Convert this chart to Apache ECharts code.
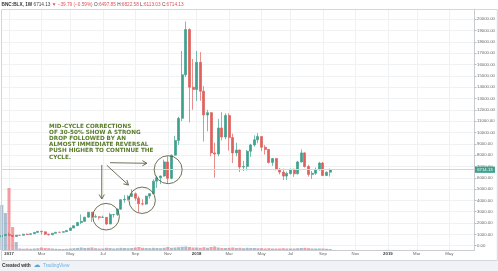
<!DOCTYPE html>
<html><head><meta charset="utf-8">
<script src="https://cdn.jsdelivr.net/npm/echarts@6/dist/echarts.min.js"></script>
<style>html,body{margin:0;padding:0;background:#fff;}#c{width:498px;height:271px;}</style>
</head><body><div id="c"></div>
<script>
// ---------- DATA ----------
const firstWeek = '2016-12-19';   // first weekly bar (Monday)
const weekCount = 132;            // weeks shown on the time axis (incl. empty future space)
// weekly candles: [open, close, low, high]
const ohlc = [
  [790,891,785,935],[891,998,880,1005],[998,908,850,1150],[908,818,750,915],[818,922,818,925],
  [922,921,886,925],[921,1021,915,1030],[1021,998,940,1070],[998,1055,975,1060],[1055,1175,1050,1200],
  [1175,1273,1170,1280],[1273,1225,980,1330],[1225,1019,940,1260],[1019,966,890,1060],[966,1098,935,1110],
  [1098,1190,1095,1210],[1190,1186,1150,1200],[1186,1240,1180,1260],[1240,1350,1235,1355],[1350,1560,1350,1610],
  [1560,1770,1550,1800],[1770,2050,1730,2100],[2050,2150,1900,2760],[2150,2520,2100,2550],[2520,2950,2500,2980],
  [2950,2530,2100,2990],[2530,2560,2500,2760],[2560,2500,2300,2590],[2500,2510,2450,2660],[2510,1915,1840,2530],
  [1915,2750,1905,2900],[2750,2760,2480,2800],[2760,3230,2620,3290],[3230,4060,3180,4100],[4060,4100,3800,4480],
  [4100,4350,3990,4460],[4350,4590,4320,4980],[4590,4200,3970,4700],[4200,3700,2970,4380],[3700,3680,3550,4100],
  [3680,4380,3610,4420],[4380,4600,4150,4620],[4600,5700,4560,5860],[5700,6000,5100,6200],[6000,6150,5440,6200],
  [6150,7400,6100,7600],[7400,5950,5500,7900],[5950,8000,5860,8050],[8000,9300,7950,9700],[9300,11250,8900,11400],
  [11250,15100,11000,17200],[15100,19100,14900,19800],[19100,14000,10900,19200],[14000,13800,12000,16500],[13800,16200,12800,17200],
  [16200,13650,12800,17100],[13650,11550,9200,14100],[11550,11750,10100,12000],[11750,8200,7900,11800],[8200,8100,6000,9100],
  [8100,10400,7900,11200],[10400,9600,9300,11800],[9600,11500,9400,11700],[11500,9550,8400,11700],[9550,8200,7300,9900],
  [8200,8450,7900,9100],[8450,6950,6500,8500],[6950,7000,6600,7500],[7000,8350,6650,8450],[8350,8900,7850,9000],
  [8900,9350,8750,9750],[9350,9650,9050,9950],[9650,8700,8350,9650],[8700,8500,8050,8900],[8500,7350,7250,8550],
  [7350,7700,7050,7750],[7700,6750,6650,7750],[6750,6500,6300,6850],[6500,6150,5800,6800],[6150,6380,5800,6530],
  [6380,6750,6280,6800],[6750,6350,6080,6800],[6350,7400,6300,7500],[7400,8200,7350,8500],[8200,7000,6900,8250],
  [7000,6300,6100,7150],[6300,6400,5900,6600],[6400,6700,6250,6900],[6700,7300,6650,7400],[7300,6200,6150,7400],
  [6200,6498,6150,6550],[6497.85,6714.13,6113.03,6822.58]
];
// relative weekly volume (arbitrary units)
const volume = [
  45,37,62,23,8,1.5,1.2,1.5,1.2,1.5,
  1.8,2.5,2,1.8,1.5,1.2,1,1,1.2,1.5,
  1.8,2,2.5,2,2.2,2.5,1.8,1.5,1.5,2.2,
  2,1.5,1.8,2.2,2,1.8,2,2.5,3,2.2,
  2,1.8,2.2,2,1.8,2.2,3,2.2,2.5,2.8,
  3.2,3.5,3,2.5,2.5,2.2,2.8,2.2,3,3.5,
  2.5,2,2,2.2,2.5,2,2.2,1.8,2.2,2,
  2,1.8,1.8,1.5,1.8,1.5,1.5,1.5,1.8,1.5,
  1.5,1.5,1.8,2,2.2,1.8,1.5,1.5,1.5,1.5,
  1.2,1
];
const lastPrice = 6714.13;
const yTickLabelsMax = 20000;
const timeTicks = [
  ['2017-01-02','2017'],['2017-03-06','Mar'],['2017-05-01','May'],['2017-07-03','Jul'],['2017-09-04','Sep'],
  ['2017-11-06','Nov'],['2018-01-01','2018'],['2018-03-05','Mar'],['2018-05-07','May'],['2018-07-02','Jul'],
  ['2018-09-03','Sep'],['2018-11-05','Nov'],['2019-01-07','2019'],['2019-03-04','Mar'],['2019-05-06','May']
];
const headerParts = [
  ['b','BNC:BLX, 1W '],['n','6714.13 '],['r','\u25BC \u221239.79 (\u22120.59%) '],
  ['n','O:'],['r','6497.85 '],['n','H:'],['r','6822.58 '],['n','L:'],['r','6113.03 '],['n','C:'],['r','6714.13']
];
const noteText = ['MID-CYCLE CORRECTIONS','OF 30-50% SHOW A STRONG','DROP FOLLOWED BY AN','ALMOST IMMEDIATE REVERSAL','PUSH HIGHER TO CONTINUE THE','CYCLE.'];
// annotation anchors in chart space: [week index, price]
const noteAnchor = [13.1, 10790];
const noteCircles = [[28.9, 2562, 13.3], [38.9, 4011, 13.2], [46.1, 6714, 14]];
const noteArrows = [
  [[27.7, 7129], [27.7, 4125]],
  [[29.1, 7102], [35.1, 5362]],
  [[30.0, 7332], [40.2, 7279]]
];

// ---------- BUILD ----------
const categories = [];
{
  const d0 = new Date(firstWeek + 'T00:00:00Z');
  for (let k = 0; k < weekCount; k++) {
    const d = new Date(d0.getTime() + k * 7 * 86400000);
    categories.push(d.toISOString().slice(0, 10));
  }
}
const tickMap = {};
timeTicks.forEach(t => tickMap[t[0]] = t[1]);
const showTick = (idx, val) => tickMap[val] !== undefined;

const UP = '#3fa08c', DOWN = '#e0605c';
const volData = volume.map((v, i) => ({
  value: v,
  itemStyle: { color: ohlc[i][1] >= ohlc[i][0] ? 'rgba(100,135,165,0.55)' : 'rgba(235,80,92,0.55)' }
}));

const FONT = 'Liberation Sans, Arial, sans-serif';
const HF = 4.7;
const richHeader = {
  b: { fontWeight: 'bold', fill: '#333', fontSize: HF, fontFamily: FONT },
  n: { fill: '#444', fontSize: HF, fontFamily: FONT },
  r: { fill: '#e0505a', fontSize: HF, fontFamily: FONT }
};

const option = {
  animation: false,
  backgroundColor: '#ffffff',
  grid: [
    { left: 1.8, right: 23.5, top: 9, height: 236.7 },
    { left: 1.8, right: 23.5, top: 9, bottom: 21 }
  ],
  xAxis: [
    { type: 'category', gridIndex: 0, data: categories, boundaryGap: false,
      axisLine: { show: false }, axisTick: { show: false }, axisLabel: { show: false }, splitLine: { show: false } },
    { type: 'category', gridIndex: 1, data: categories, boundaryGap: false,
      axisLine: { show: true, lineStyle: { color: '#c9ccd0', width: 1 } },
      axisTick: { show: false },
      axisLabel: { show: true, interval: showTick, fontSize: 4.3, color: '#666', margin: 2.2, fontFamily: FONT,
        formatter: v => { const t = tickMap[v]; if (!t) return ''; return /^\d{4}$/.test(t) ? '{y|' + t + '}' : t; },
        rich: { y: { fontSize: 4.3, fontWeight: 'bold', color: '#333', fontFamily: FONT } } },
      splitLine: { show: true, interval: showTick, lineStyle: { color: '#f0f1f3', width: 1 } } }
  ],
  yAxis: [
    { type: 'value', gridIndex: 0, position: 'right', min: 0, max: 20910, interval: 1000,
      axisLine: { show: false },
      axisTick: { show: true, length: 2, lineStyle: { color: '#b8bcc0' } },
      axisLabel: { show: true, fontSize: 4.3, color: '#666', margin: 2.5, fontFamily: FONT,
        formatter: v => (v % 1000 === 0 && v <= yTickLabelsMax) ? v.toFixed(2) : '' },
      splitLine: { show: true, lineStyle: { color: '#f0f1f3', width: 1 } } },
    { type: 'value', gridIndex: 1, position: 'right', min: 0, max: 241,
      axisLine: { show: true, lineStyle: { color: '#c9ccd0', width: 1 } },
      axisTick: { show: false }, axisLabel: { show: false }, splitLine: { show: false } }
  ],
  series: [
    { type: 'bar', name: 'Volume', xAxisIndex: 1, yAxisIndex: 1, data: volData, barWidth: '85%', silent: true },
    { type: 'candlestick', name: 'BNC:BLX', xAxisIndex: 0, yAxisIndex: 0, data: ohlc, clip: false,
      barWidth: 2.5,
      itemStyle: { color: UP, color0: DOWN, borderColor: UP, borderColor0: DOWN, borderWidth: 0.7 },
      markLine: {
        silent: true, symbol: ['none', 'none'], animation: false,
        lineStyle: { color: '#c6dcd8', width: 1, type: 'solid' },
        label: { show: true, position: 'end', distance: 0.5, formatter: lastPrice.toFixed(2),
          backgroundColor: UP, color: '#fff', fontSize: 4.3, padding: [1.3, 2.2, 1, 2.2], fontFamily: FONT },
        data: [{ yAxis: lastPrice }]
      } }
  ],
  graphic: [
    { id: 'frame', type: 'rect', z: 100, silent: true,
      shape: { x: 1.5, y: 9.5, width: 495.8, height: 251 },
      style: { fill: 'none', stroke: '#d3d6da', lineWidth: 1 } },
    { id: 'footerBg', type: 'rect', z: 99, silent: true,
      shape: { x: 0, y: 261, width: 498, height: 10 }, style: { fill: '#f0f2f5' } },
    { id: 'header', type: 'text', z: 100, x: 1.5, y: 4.5, silent: true,
      style: { text: headerParts.map(p => '{' + p[0] + '|' + p[1] + '}').join(''), rich: richHeader,
        verticalAlign: 'middle', fontSize: HF, fontFamily: FONT } },
    { id: 'created', type: 'text', z: 101, x: 2, y: 266, silent: true,
      style: { text: 'Created with', fill: '#333', fontSize: 4.8, fontWeight: 'bold', fontFamily: FONT, verticalAlign: 'middle' } },
    { id: 'logo', type: 'text', z: 101, x: 33.5, y: 265.5, silent: true,
      style: { text: '\u2601', fill: '#5aa6dc', fontSize: 7, fontFamily: 'DejaVu Sans', verticalAlign: 'middle' } },
    { id: 'tv', type: 'text', z: 101, x: 43, y: 266, silent: true,
      style: { text: 'TradingView', fill: '#6cb2e4', fontSize: 4.8, fontFamily: FONT, verticalAlign: 'middle' } }
  ]
};

const chart = echarts.init(document.getElementById('c'), null, { renderer: 'canvas' });
chart.setOption(option);

// ---------- ANNOTATIONS (anchored in chart space) ----------
function toPx(i, v) {
  const a = chart.convertToPixel({ gridIndex: 0 }, [0, v]);
  const b = chart.convertToPixel({ gridIndex: 0 }, [1, v]);
  return [a[0] + i * (b[0] - a[0]), a[1]];
}
const ANN = '#5b6342';
const g = [];
const np = toPx(noteAnchor[0], noteAnchor[1]);
g.push({ id: 'note', type: 'text', z: 50, x: np[0], y: np[1], silent: true,
  style: { text: noteText.join('\n'), fill: '#5a7d2c', fontSize: 5.7, fontWeight: 'bold',
    fontFamily: 'DejaVu Sans', lineHeight: 6.1, verticalAlign: 'top', align: 'left' } });
noteCircles.forEach((c, k) => {
  const p = toPx(c[0], c[1]);
  g.push({ id: 'circ' + k, type: 'circle', z: 50, silent: true,
    shape: { cx: p[0], cy: p[1], r: c[2] }, style: { fill: 'none', stroke: ANN, lineWidth: 0.9 } });
});
noteArrows.forEach((a, k) => {
  const p0 = toPx(a[0][0], a[0][1]);
  const p1 = toPx(a[1][0], a[1][1]);
  const dx = p1[0] - p0[0], dy = p1[1] - p0[1];
  const L = Math.hypot(dx, dy), ux = dx / L, uy = dy / L;
  const hl = 4.5, hw = 2.6;
  const h1 = [p1[0] - ux * hl - uy * hw, p1[1] - uy * hl + ux * hw];
  const h2 = [p1[0] - ux * hl + uy * hw, p1[1] - uy * hl - ux * hw];
  g.push({ id: 'arr' + k, type: 'line', z: 50, silent: true,
    shape: { x1: p0[0], y1: p0[1], x2: p1[0], y2: p1[1] }, style: { stroke: ANN, lineWidth: 0.9 } });
  g.push({ id: 'head' + k, type: 'polyline', z: 50, silent: true,
    shape: { points: [h1, p1, h2] }, style: { stroke: ANN, lineWidth: 0.9, fill: 'none' } });
});
chart.setOption({ graphic: g });
</script>
</body></html>
